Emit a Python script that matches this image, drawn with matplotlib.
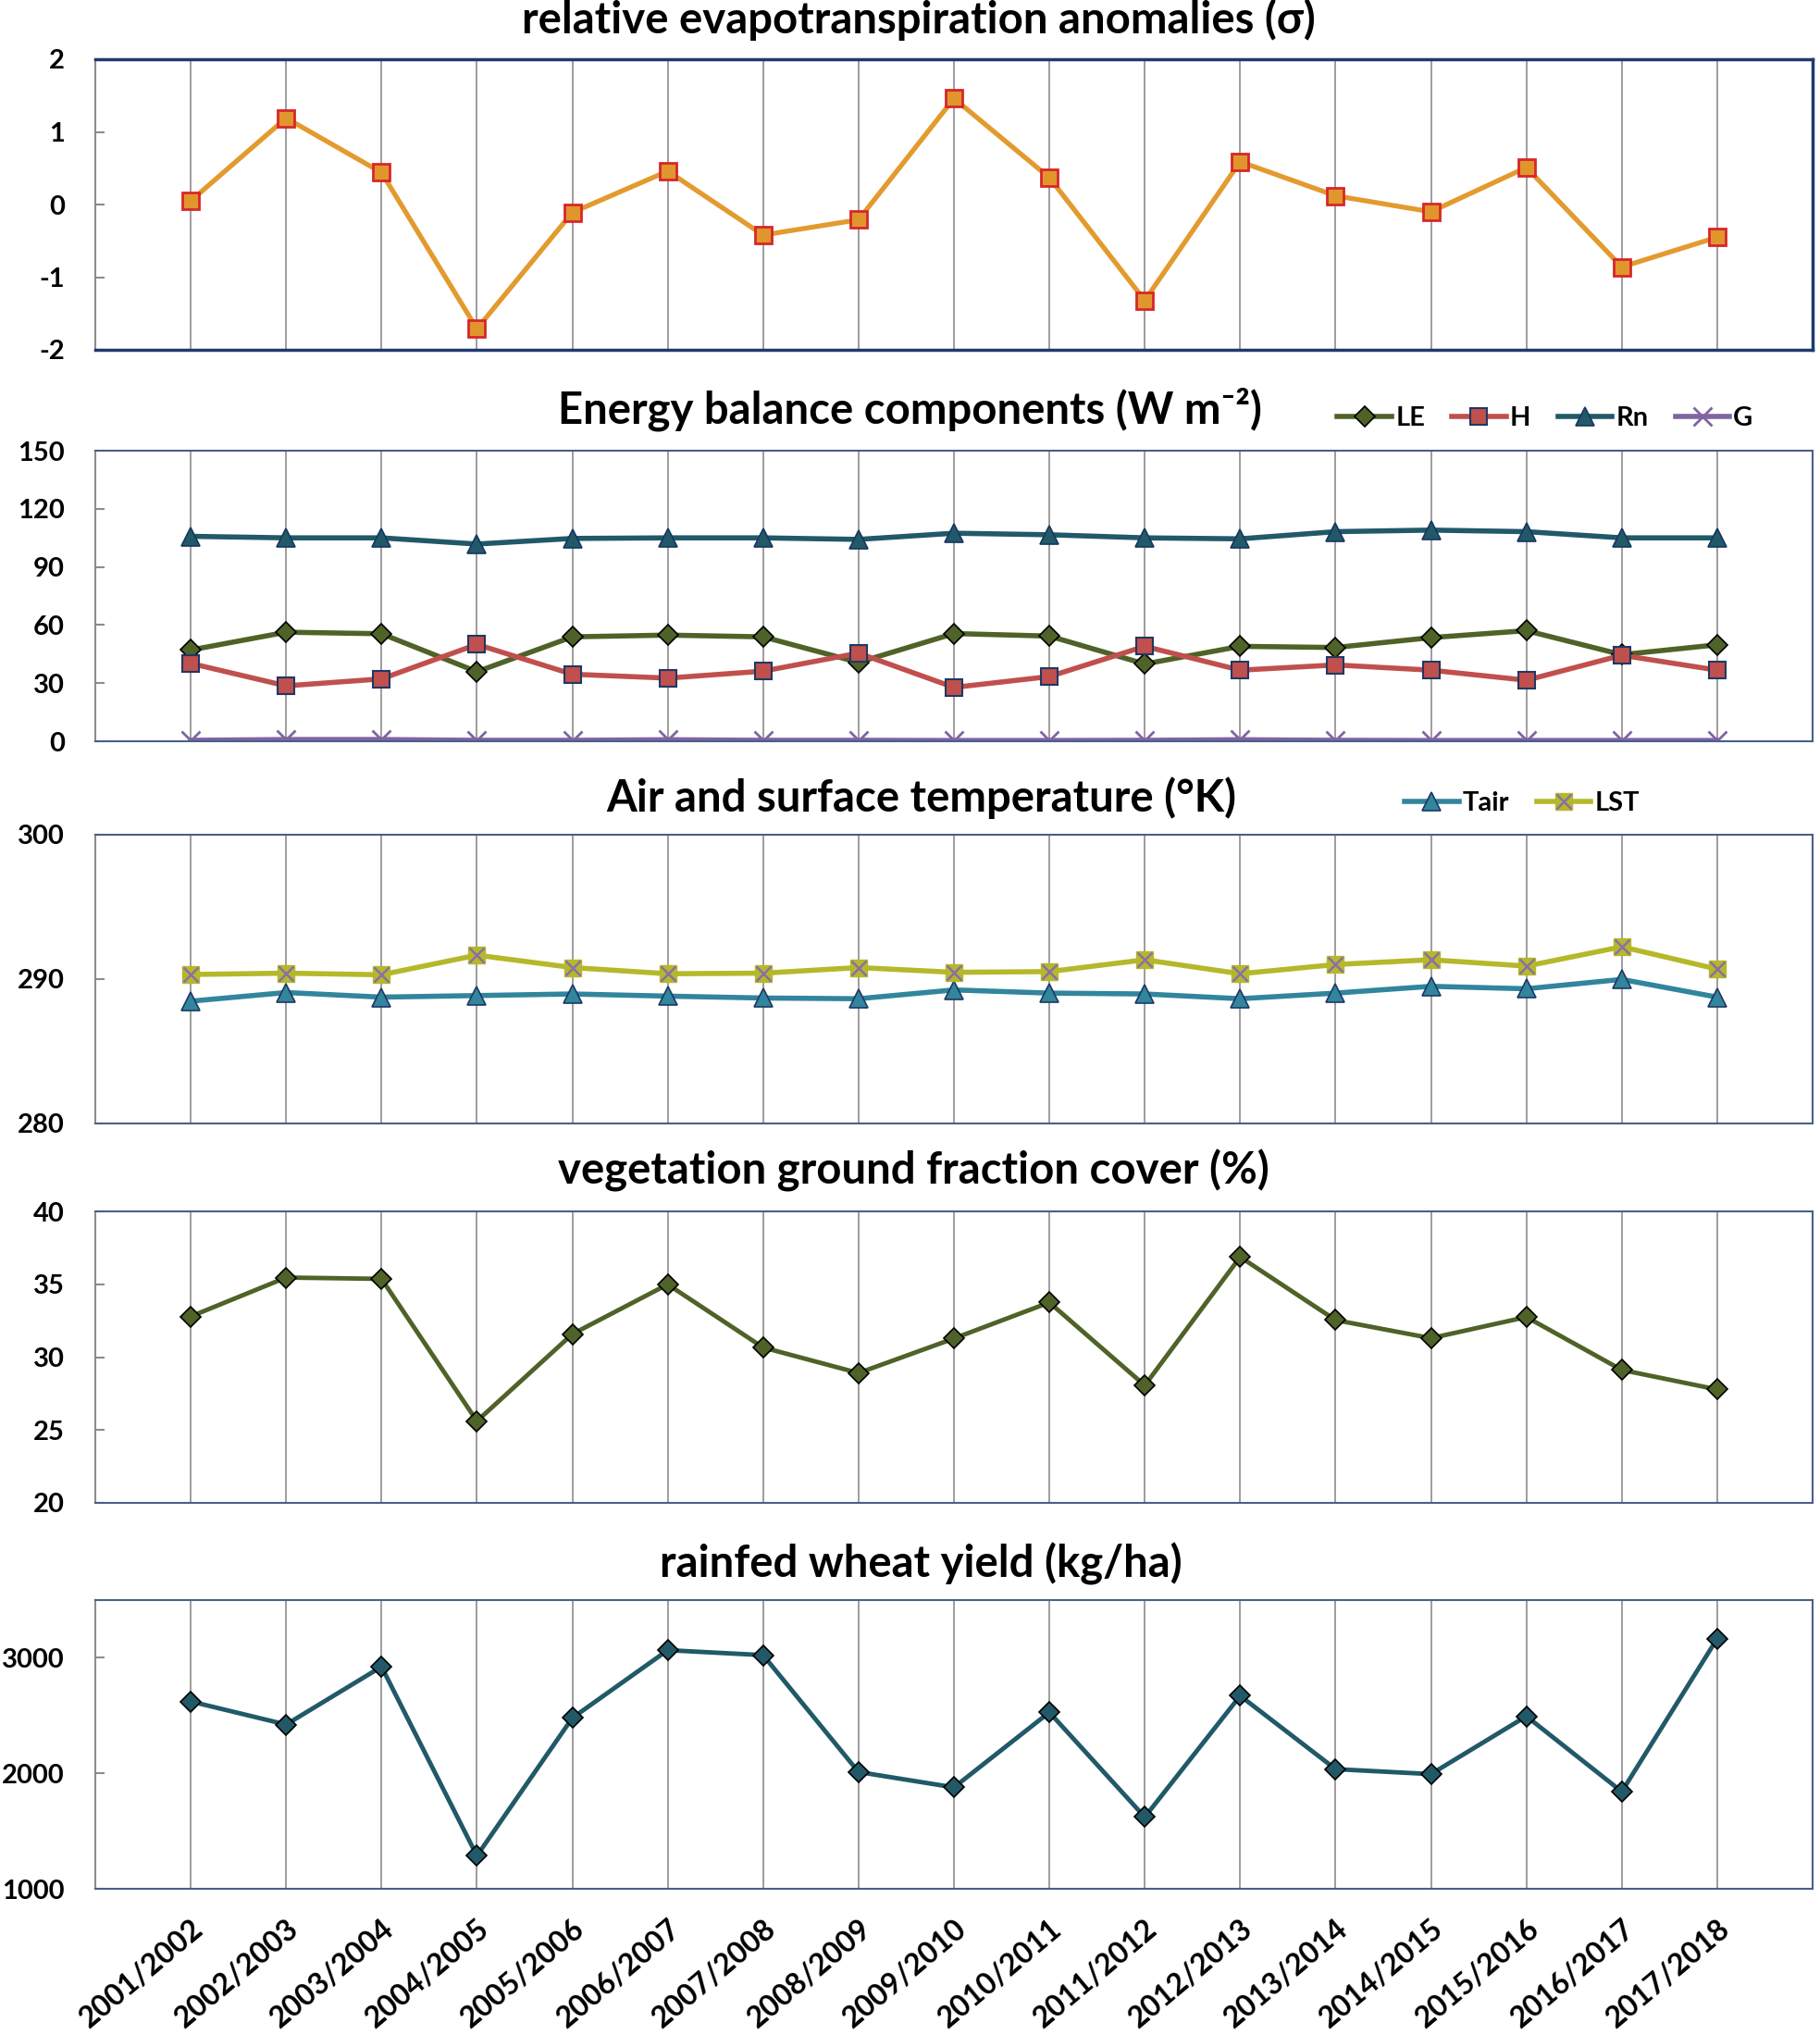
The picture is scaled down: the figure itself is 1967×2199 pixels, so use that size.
import matplotlib
matplotlib.use("Agg")
import matplotlib.pyplot as plt

plt.rcParams["font.family"] = ["Lato", "DejaVu Sans"]
plt.rcParams["font.weight"] = "bold"
plt.rcParams["axes.unicode_minus"] = False

# Data
seasons = ["2001/2002", "2002/2003", "2003/2004", "2004/2005", "2005/2006",
           "2006/2007", "2007/2008", "2008/2009", "2009/2010", "2010/2011",
           "2011/2012", "2012/2013", "2013/2014", "2014/2015", "2015/2016",
           "2016/2017", "2017/2018"]

et_anomaly = [0.05, 1.19, 0.44, -1.71, -0.11, 0.46, -0.42, -0.21, 1.46,
              0.37, -1.32, 0.59, 0.12, -0.10, 0.51, -0.86, -0.45]

LE = [47.1, 56.3, 55.5, 35.9, 53.9, 54.8, 53.9, 40.7, 55.6, 54.3, 39.9,
      49.0, 48.4, 53.5, 57.1, 44.7, 49.8]
H = [40.2, 28.6, 32.2, 50.0, 34.6, 32.6, 36.2, 45.5, 27.8, 33.4, 49.0,
     36.7, 39.4, 36.7, 31.5, 44.4, 36.7]
Rn = [105.8, 105.0, 105.0, 101.8, 104.7, 105.0, 105.0, 104.2, 107.4, 106.6,
      105.0, 104.5, 108.2, 109.0, 108.2, 105.0, 105.0]
G = [0.5, 0.9, 0.9, 0.5, 0.5, 0.8, 0.5, 0.5, 0.4, 0.4, 0.5, 0.8, 0.5, 0.4,
     0.4, 0.4, 0.4]

Tair = [288.47, 289.07, 288.75, 288.86, 288.97, 288.82, 288.69, 288.64,
        289.25, 289.03, 288.97, 288.64, 289.03, 289.50, 289.33, 289.98, 288.75]
LST = [290.32, 290.41, 290.30, 291.66, 290.80, 290.37, 290.41, 290.80,
       290.47, 290.52, 291.34, 290.37, 291.01, 291.34, 290.90, 292.24, 290.69]

fcover = [32.79, 35.46, 35.37, 25.61, 31.58, 34.99, 30.66, 28.91, 31.28,
          33.75, 28.06, 36.87, 32.54, 31.30, 32.75, 29.12, 27.78]

wheat_yield = [2622, 2422, 2923, 1286, 2479, 3066, 3023, 2011, 1878, 2528,
               1621, 2671, 2036, 1993, 2494, 1841, 3166]

x = list(range(len(seasons)))

fig = plt.figure(figsize=(19.67, 21.99), dpi=100)

W, Hpx = 1967, 2199
left, right = 103, 1959
# (top, bottom) of each panel in pixels
panels_px = [(64, 378), (487, 801), (902, 1214), (1309, 1624), (1729, 2041)]
axes = []
for top, bot in panels_px:
    ax = fig.add_axes([left / W, 1 - bot / Hpx, (right - left) / W, (bot - top) / Hpx])
    axes.append(ax)

grid_col = "#8c8c8c"
navy = "#1f3a70"
slate = "#4a5f8a"
TICK_FS = 21


def style_axes(ax, ylim, yticks, frame_col, frame_lw, show_x=False):
    ax.set_xlim(-1, len(seasons))
    ax.set_ylim(*ylim)
    ax.set_yticks(yticks)
    ax.set_xticks(x)
    ax.grid(axis="x", color=grid_col, linewidth=1.2)
    ax.set_axisbelow(True)
    for s in ["top", "bottom", "right"]:
        ax.spines[s].set_color(frame_col)
        ax.spines[s].set_linewidth(frame_lw)
    ax.spines["left"].set_color(grid_col)
    ax.spines["left"].set_linewidth(1.5)
    ax.tick_params(axis="y", direction="in", length=7, width=1.5, color=grid_col,
                   labelsize=TICK_FS, pad=24)
    ax.tick_params(axis="x", length=0)
    for lab in ax.get_yticklabels():
        lab.set_fontweight("bold")
    if show_x:
        ax.set_xticklabels(seasons, rotation=40, ha="right", va="top",
                           rotation_mode="anchor", fontsize=23, fontweight="bold")
        ax.tick_params(axis="x", pad=20)
    else:
        ax.set_xticklabels([])


title_kw = dict(ha="center", va="center", fontsize=34, fontweight="bold")
leg_kw = dict(loc="center", frameon=False, handlelength=2.0, handletextpad=0.15,
              columnspacing=1.0, prop={"weight": "bold", "size": TICK_FS})

# Panel 1: relative ET anomalies
ax = axes[0]
ax.plot(x, et_anomaly, color="#e39a2e", linewidth=3.8, marker="s", markersize=13,
        markerfacecolor="#e0962c", markeredgecolor="#d8262a", markeredgewidth=2)
style_axes(ax, (-2, 2), [-2, -1, 0, 1, 2], navy, 2.5)
fig.text(0.505, 1 - 21 / Hpx, "relative evapotranspiration anomalies (\u03c3)", **title_kw)

# Panel 2: energy balance components
ax = axes[1]
ax.plot(x, LE, color="#4f6228", linewidth=4, marker="D", markersize=11,
        markerfacecolor="#4f6228", markeredgecolor="black", markeredgewidth=1.2, label="LE")
ax.plot(x, H, color="#c0504d", linewidth=4, marker="s", markersize=13,
        markerfacecolor="#c0504d", markeredgecolor="#1f3864", markeredgewidth=1.5, label="H")
ax.plot(x, Rn, color="#215968", linewidth=4, marker="^", markersize=14,
        markerfacecolor="#215968", markeredgecolor="#17375e", markeredgewidth=1.2, label="Rn")
ax.plot(x, G, color="#8064a2", linewidth=4, marker="x", markersize=14,
        markeredgewidth=2, label="G")
style_axes(ax, (0, 150), [0, 30, 60, 90, 120, 150], slate, 1.5)
fig.text(0.50, 1 - 442 / Hpx, "Energy balance components (W m\u207b\u00b2)", **title_kw)
fig.legend(handles=ax.get_lines(), ncol=4,
           bbox_to_anchor=(1670 / W, 1 - 452 / Hpx), **leg_kw)

# Panel 3: air and surface temperature
ax = axes[2]
l_tair, = ax.plot(x, Tair, color="#31859c", linewidth=4, marker="^", markersize=14,
                  markerfacecolor="#31859c", markeredgecolor="#1f3864", markeredgewidth=1.2)
l_lst, = ax.plot(x, LST, color="#b5b82a", linewidth=4, marker="s", markersize=13,
                 markerfacecolor="#b5b82a", markeredgecolor="#b5b82a")
l_lstx, = ax.plot(x, LST, linestyle="none", marker="x", markersize=12,
                  markeredgecolor="#8a6fa8", markeredgewidth=1.8)
style_axes(ax, (280, 300), [280, 290, 300], slate, 1.5)
fig.text(0.506, 1 - 862 / Hpx, "Air and surface temperature (\u00b0K)", **title_kw)
fig.legend(handles=[l_tair, (l_lst, l_lstx)], labels=["Tair", "LST"], ncol=2,
           bbox_to_anchor=(1645 / W, 1 - 868 / Hpx), **leg_kw)

# Panel 4: vegetation ground fraction cover
ax = axes[3]
ax.plot(x, fcover, color="#4f6228", linewidth=3.5, marker="D", markersize=11,
        markerfacecolor="#4f6228", markeredgecolor="black", markeredgewidth=1.2)
style_axes(ax, (20, 40), [20, 25, 30, 35, 40], slate, 1.5)
fig.text(0.502, 1 - 1265 / Hpx, "vegetation ground fraction cover (%)", **title_kw)

# Panel 5: rainfed wheat yield
ax = axes[4]
ax.plot(x, wheat_yield, color="#215968", linewidth=3.5, marker="D", markersize=11,
        markerfacecolor="#215968", markeredgecolor="black", markeredgewidth=1.2)
style_axes(ax, (1000, 3500), [1000, 2000, 3000], slate, 1.5, show_x=True)
fig.text(0.506, 1 - 1690 / Hpx, "rainfed wheat yield (kg/ha)", **title_kw)

fig.savefig("out.png", dpi=100)
